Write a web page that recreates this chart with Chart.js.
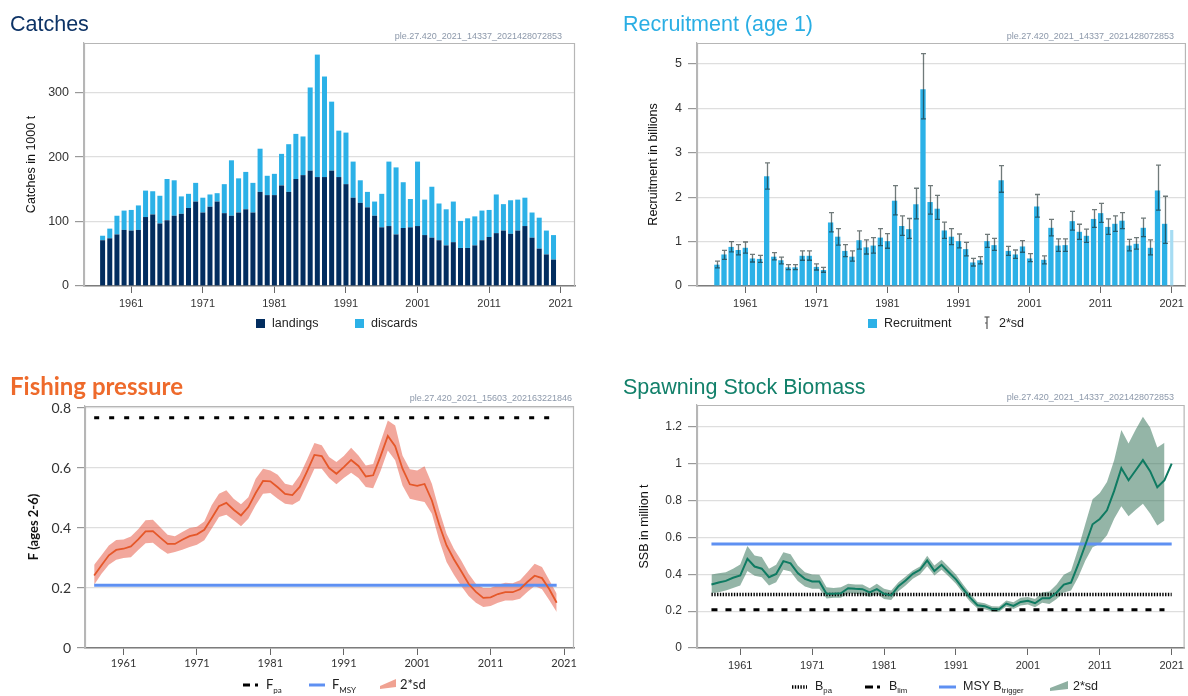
<!DOCTYPE html>
<html>
<head>
<meta charset="utf-8">
<script src="https://cdn.jsdelivr.net/npm/chart.js@4.4.1/dist/chart.umd.min.js"></script>
<style>
  html, body { margin: 0; padding: 0; background: #fff; }
  #wrap { position: relative; width: 1188px; height: 696px; overflow: hidden; font-family: "Liberation Sans", Arial, sans-serif; }
  canvas { position: absolute; }
  .title { position: absolute; font-size: 21.5px; line-height: 26px; white-space: nowrap; }
  .sid { position: absolute; width: 220px; font-size: 9px; line-height: 12px; color: #8c98aa; text-align: right; white-space: nowrap; }
  .leg { position: absolute; font-size: 12.5px; line-height: 16px; color: #222; white-space: nowrap; }
  .lato { font-family: Lato, "Liberation Sans", sans-serif; }
  .sw { position: absolute; width: 9px; height: 9px; }
  svg.ic { position: absolute; overflow: visible; }
  sub { font-size: 0.62em; vertical-align: -0.45em; line-height: 0; }
</style>
</head>
<body>
<div id="wrap">
  <canvas id="cCatch" width="594" height="348" style="left:0;top:0;width:594px;height:348px"></canvas>
  <canvas id="cRec" width="594" height="348" style="left:594px;top:0;width:594px;height:348px"></canvas>
  <canvas id="cF" width="594" height="348" style="left:0;top:348px;width:594px;height:348px"></canvas>
  <canvas id="cSSB" width="594" height="348" style="left:594px;top:348px;width:594px;height:348px"></canvas>

  <div class="title" style="left:10px;top:11px;color:#0d3366">Catches</div>
  <div class="title" style="left:623px;top:11px;color:#2aaee4">Recruitment (age 1)</div>
  <div class="title lato" style="left:10px;top:373px;color:#ee6a2b;font-weight:700;font-size:24px">Fishing pressure</div>
  <div class="title" style="left:623px;top:374px;color:#12806a">Spawning Stock Biomass</div>

  <div class="sid" style="left:342px;top:30px">ple.27.420_2021_14337_2021428072853</div>
  <div class="sid" style="left:954px;top:30px">ple.27.420_2021_14337_2021428072853</div>
  <div class="sid" style="left:352px;top:392px">ple.27.420_2021_15603_202163221846</div>
  <div class="sid" style="left:954px;top:391px">ple.27.420_2021_14337_2021428072853</div>

  <!-- catches legend -->
  <div class="sw" style="left:256px;top:319px;background:#022d5f"></div>
  <div class="leg" style="left:272px;top:315px">landings</div>
  <div class="sw" style="left:355px;top:319px;background:#2cb1e7"></div>
  <div class="leg" style="left:371px;top:315px">discards</div>

  <!-- recruitment legend -->
  <div class="sw" style="left:868px;top:319px;background:#2cb1e7"></div>
  <div class="leg" style="left:884px;top:315px">Recruitment</div>
  <svg class="ic" style="left:983px;top:316px" width="8" height="14">
    <line x1="4" y1="1" x2="4" y2="13" stroke="#555" stroke-width="1.2"/>
    <line x1="1.5" y1="1" x2="6.5" y2="1" stroke="#555" stroke-width="1.2"/>
    <line x1="2" y1="7" x2="4" y2="7" stroke="#555" stroke-width="1.2"/>
  </svg>
  <div class="leg" style="left:999px;top:315px">2*sd</div>

  <!-- F legend -->
  <svg class="ic" style="left:242px;top:680px" width="20" height="10">
    <line x1="1" y1="5" x2="8" y2="5" stroke="#000" stroke-width="3"/>
    <line x1="13" y1="5" x2="16" y2="5" stroke="#000" stroke-width="3"/>
  </svg>
  <div class="leg lato" style="left:266px;top:676px;font-size:13px">F<sub>pa</sub></div>
  <svg class="ic" style="left:309px;top:680px" width="16" height="10">
    <line x1="0" y1="5" x2="16" y2="5" stroke="#5e90f2" stroke-width="3"/>
  </svg>
  <div class="leg lato" style="left:332px;top:676px;font-size:13px">F<sub>MSY</sub></div>
  <svg class="ic" style="left:380px;top:678px" width="16" height="12">
    <polygon points="0,8 16,1 16,9 0,11" fill="#f0a292"/>
  </svg>
  <div class="leg lato" style="left:400px;top:676px;font-size:13px">2*sd</div>

  <!-- SSB legend -->
  <svg class="ic" style="left:792px;top:682px" width="15" height="10">
    <line x1="0" y1="5" x2="15" y2="5" stroke="#000" stroke-width="3.5" stroke-dasharray="1.4 1.4"/>
  </svg>
  <div class="leg" style="left:815px;top:678px">B<sub>pa</sub></div>
  <svg class="ic" style="left:865px;top:682px" width="17" height="10">
    <line x1="0" y1="5" x2="8" y2="5" stroke="#000" stroke-width="3"/>
    <line x1="12" y1="5" x2="15" y2="5" stroke="#000" stroke-width="3"/>
  </svg>
  <div class="leg" style="left:889px;top:678px">B<sub>lim</sub></div>
  <svg class="ic" style="left:939px;top:682px" width="17" height="10">
    <line x1="0" y1="5" x2="17" y2="5" stroke="#5e90f2" stroke-width="3"/>
  </svg>
  <div class="leg" style="left:963px;top:678px">MSY B<sub>trigger</sub></div>
  <svg class="ic" style="left:1050px;top:680px" width="18" height="12">
    <polygon points="0,8 18,1 18,9 0,11" fill="#8fb0a2"/>
  </svg>
  <div class="leg" style="left:1073px;top:678px">2*sd</div>
</div>

<script>
// --- data ---
const years = [1957,1958,1959,1960,1961,1962,1963,1964,1965,1966,
  1967,1968,1969,1970,1971,1972,1973,1974,1975,1976,
  1977,1978,1979,1980,1981,1982,1983,1984,1985,1986,
  1987,1988,1989,1990,1991,1992,1993,1994,1995,1996,
  1997,1998,1999,2000,2001,2002,2003,2004,2005,2006,
  2007,2008,2009,2010,2011,2012,2013,2014,2015,2016,
  2017,2018,2019,2020];
const xTickYears = [1961, 1971, 1981, 1991, 2001, 2011, 2021];

// catches in 1000 t
const landings = [71,74,80,87,86,87,107,111,97,102,
  109,112,121,131,114,123,131,113,109,114,
  119,114,146,141,141,156,146,166,172,179,
  169,169,179,169,158,137,129,122,109,91,
  93,80,90,91,93,79,75,71,63,68,
  59,59,63,71,76,82,86,81,86,93,
  75,58,49,41];
const discards = [7,15,29,30,32,38,41,36,43,64,
  55,27,22,29,23,19,13,45,86,53,
  58,46,67,30,33,49,74,70,60,129,
  190,156,107,72,80,56,35,24,22,52,
  100,104,71,44,100,55,79,57,56,63,
  42,46,45,46,42,60,41,52,48,44,
  39,48,37,38];
const catchTicks = [0, 100, 200, 300];

// recruitment in billions
const recruitment = [0.48,0.71,0.88,0.81,0.86,0.62,0.61,2.47,0.66,0.58,
  0.42,0.42,0.68,0.68,0.43,0.36,1.43,1.11,0.79,0.66,
  1.03,0.87,0.91,1.09,1.01,1.92,1.35,1.28,1.84,4.43,
  1.89,1.74,1.25,1.11,1.01,0.83,0.53,0.58,1.01,0.92,
  2.38,0.79,0.71,0.89,0.62,1.79,0.59,1.31,0.91,0.92,
  1.46,1.22,1.13,1.51,1.64,1.33,1.40,1.47,0.91,0.95,
  1.31,0.86,2.15,1.40];
const recHigh = [0.56,0.80,1.00,0.93,0.99,0.71,0.69,2.77,0.75,0.65,
  0.48,0.48,0.79,0.79,0.50,0.42,1.65,1.29,0.93,0.79,
  1.24,1.04,1.09,1.29,1.18,2.26,1.58,1.52,2.20,5.23,
  2.26,2.04,1.44,1.29,1.17,0.98,0.62,0.66,1.16,1.07,
  2.71,0.89,0.81,1.02,0.73,2.06,0.68,1.50,1.06,1.06,
  1.68,1.39,1.28,1.72,1.86,1.51,1.58,1.65,1.05,1.09,
  1.53,1.04,2.72,2.02];
const recLow = [0.41,0.60,0.77,0.70,0.74,0.54,0.53,2.18,0.59,0.50,
  0.37,0.37,0.58,0.58,0.36,0.31,1.22,0.92,0.66,0.56,
  0.83,0.72,0.74,0.91,0.85,1.60,1.14,1.07,1.51,3.76,
  1.62,1.50,1.07,0.93,0.86,0.68,0.45,0.50,0.87,0.80,
  2.11,0.69,0.62,0.76,0.55,1.55,0.50,1.13,0.78,0.78,
  1.26,1.05,0.98,1.32,1.43,1.16,1.23,1.29,0.79,0.83,
  1.11,0.70,1.71,0.96];
const recIntermediateYear = 2021;
const recIntermediate = 1.26;
const recTicks = [0, 1, 2, 3, 4, 5];

// fishing mortality F (ages 2-6)
const fValues = [0.242,0.276,0.309,0.327,0.331,0.339,0.362,0.389,0.390,0.368,
  0.347,0.347,0.361,0.373,0.379,0.394,0.433,0.473,0.484,0.461,
  0.442,0.470,0.517,0.557,0.556,0.536,0.514,0.510,0.537,0.589,
  0.644,0.640,0.600,0.581,0.603,0.627,0.607,0.572,0.576,0.639,
  0.707,0.673,0.598,0.546,0.541,0.547,0.492,0.411,0.342,0.296,
  0.256,0.214,0.187,0.167,0.169,0.180,0.186,0.186,0.196,0.220,
  0.241,0.233,0.196,0.151];
const fHigh = [0.278,0.309,0.342,0.360,0.362,0.372,0.396,0.426,0.428,0.403,
  0.378,0.373,0.387,0.400,0.404,0.422,0.476,0.514,0.526,0.498,
  0.479,0.503,0.564,0.598,0.592,0.578,0.548,0.542,0.576,0.629,
  0.684,0.676,0.637,0.620,0.640,0.668,0.642,0.609,0.614,0.687,
  0.759,0.742,0.642,0.596,0.592,0.606,0.548,0.459,0.381,0.331,
  0.292,0.248,0.214,0.200,0.200,0.211,0.218,0.216,0.226,0.253,
  0.281,0.270,0.226,0.181];
const fLow = [0.211,0.248,0.278,0.294,0.300,0.303,0.327,0.349,0.351,0.331,
  0.314,0.320,0.328,0.337,0.344,0.359,0.398,0.437,0.444,0.426,
  0.406,0.431,0.476,0.514,0.517,0.498,0.481,0.478,0.492,0.544,
  0.598,0.598,0.567,0.546,0.567,0.584,0.567,0.537,0.533,0.589,
  0.659,0.626,0.542,0.498,0.492,0.487,0.448,0.359,0.287,0.244,
  0.207,0.173,0.151,0.137,0.140,0.151,0.158,0.158,0.164,0.187,
  0.207,0.196,0.159,0.120];
const fPa = 0.768;
const fMsy = 0.209;
const fRefYears = [1957, 2020];
const fTicks = [0, 0.2, 0.4, 0.6, 0.8];

// spawning stock biomass, million t
const ssbYears = years.concat([2021]);
const ssb = [0.344,0.355,0.364,0.381,0.393,0.484,0.442,0.430,0.384,0.402,
  0.471,0.459,0.406,0.375,0.361,0.361,0.294,0.294,0.297,0.324,
  0.321,0.319,0.301,0.319,0.294,0.285,0.335,0.366,0.402,0.424,
  0.475,0.417,0.451,0.411,0.372,0.321,0.272,0.232,0.227,0.212,
  0.210,0.241,0.228,0.250,0.256,0.243,0.270,0.270,0.301,0.344,
  0.355,0.453,0.560,0.671,0.700,0.747,0.852,0.975,0.910,0.964,
  1.019,0.959,0.872,0.910,1.000];
const ssbHigh = [0.399,0.406,0.411,0.430,0.453,0.553,0.502,0.493,0.430,0.451,
  0.520,0.508,0.448,0.411,0.399,0.397,0.330,0.326,0.330,0.348,
  0.344,0.344,0.324,0.348,0.321,0.312,0.357,0.388,0.420,0.442,
  0.500,0.448,0.479,0.439,0.399,0.344,0.294,0.250,0.243,0.227,
  0.225,0.257,0.248,0.272,0.276,0.266,0.303,0.306,0.344,0.397,
  0.417,0.538,0.674,0.807,0.841,0.901,1.019,1.182,1.109,1.185,
  1.254,1.196,1.088,1.113];
const ssbLow = [0.297,0.303,0.312,0.326,0.339,0.417,0.392,0.384,0.339,0.357,
  0.424,0.415,0.363,0.334,0.321,0.321,0.268,0.272,0.272,0.297,
  0.294,0.290,0.276,0.294,0.266,0.261,0.308,0.339,0.375,0.399,
  0.444,0.393,0.424,0.388,0.348,0.297,0.250,0.214,0.210,0.198,
  0.196,0.225,0.212,0.230,0.236,0.221,0.245,0.239,0.266,0.301,
  0.312,0.384,0.475,0.547,0.566,0.611,0.701,0.769,0.714,0.750,
  0.783,0.729,0.665,0.692];
const bPa = 0.290;
const bLim = 0.207;
const msyBtrigger = 0.564;
const bRefYears = [1957, 2021];
const bLimYears = [1957, 2020];
const ssbTicks = [0, 0.2, 0.4, 0.6, 0.8, 1, 1.2];

// --- helpers ---
Chart.defaults.font.family = '"Liberation Sans", Arial, sans-serif';
Chart.defaults.color = '#333';

const pts = (xs, ys) => xs.map((x, i) => ({ x: x, y: ys[i] }));
const refLine = (xs, v) => xs.map(x => ({ x: x, y: v }));
const fixTicks = list => scale => { scale.ticks = list.map(v => ({ value: v })); };
const fmt = v => String(+v.toFixed(2));

// grey box round the plot (left/top/right; bottom is the x axis)
const framePlugin = {
  id: 'frame',
  beforeDatasetsDraw(chart) {
    const { ctx, chartArea: a } = chart;
    ctx.save();
    ctx.strokeStyle = '#b6b6b6';
    ctx.lineWidth = 1.2;
    ctx.beginPath();
    ctx.moveTo(a.left + 0.5, a.bottom);
    ctx.lineTo(a.left + 0.5, a.top + 0.5);
    ctx.lineTo(a.right - 0.5, a.top + 0.5);
    ctx.lineTo(a.right - 0.5, a.bottom);
    ctx.stroke();
    ctx.restore();
  }
};

// 2*sd whiskers for recruitment
const errorBarPlugin = {
  id: 'errorBars',
  afterDatasetsDraw(chart) {
    const { ctx, scales: { x, y } } = chart;
    ctx.save();
    ctx.strokeStyle = 'rgba(25,40,40,0.62)';
    ctx.lineWidth = 1.3;
    years.forEach((yr, i) => {
      const px = Math.round(x.getPixelForValue(yr)) + 0.5;
      const top = y.getPixelForValue(recHigh[i]);
      const bot = y.getPixelForValue(recLow[i]);
      ctx.beginPath();
      ctx.moveTo(px, top); ctx.lineTo(px, bot);
      ctx.moveTo(px - 2.5, top); ctx.lineTo(px + 2.5, top);
      ctx.moveTo(px - 2.5, bot); ctx.lineTo(px + 2.5, bot);
      ctx.stroke();
    });
    ctx.restore();
  }
};

function xAxis(min, max, family, pad) {
  return {
    type: 'linear', min: min, max: max, offset: false,
    afterFit: s => { s.height = 30; },
    afterBuildTicks: fixTicks(xTickYears),
    ticks: { autoSkip: false, maxRotation: 0, padding: pad, color: '#333',
      font: { family: family, size: 11 }, callback: v => String(v) },
    grid: { drawOnChartArea: false, drawTicks: true, tickLength: 7, tickColor: '#666', offset: false },
    border: { color: '#7c7c7c', width: 1.5 }
  };
}

function yAxis(max, ticks, width, title, titlePad, tickFont, titleFont, tickLen) {
  return {
    min: 0, max: max,
    afterFit: s => { s.width = width; },
    afterBuildTicks: fixTicks(ticks),
    ticks: { padding: 6, color: '#333', font: tickFont, callback: fmt },
    grid: { color: '#dedede', lineWidth: 1.2, drawTicks: true, tickLength: tickLen, tickColor: '#999' },
    border: { color: '#b6b6b6', width: 1.2 },
    title: { display: true, text: title, color: '#111', font: titleFont, padding: { top: titlePad, bottom: 0 } }
  };
}

const base = {
  responsive: false, animation: false, devicePixelRatio: 1,
  plugins: { legend: { display: false }, tooltip: { enabled: false } }
};

const arial = '"Liberation Sans", Arial, sans-serif';
const lato = 'Lato, "Liberation Sans", sans-serif';

// --- Catches ---
new Chart(document.getElementById('cCatch'), {
  type: 'bar',
  data: {
    labels: years,
    datasets: [
      { label: 'landings', data: landings, backgroundColor: '#022d5f', barPercentage: 0.7, categoryPercentage: 1 },
      { label: 'discards', data: discards, backgroundColor: '#2cb1e7', barPercentage: 0.7, categoryPercentage: 1 }
    ]
  },
  options: Object.assign({}, base, {
    layout: { padding: { left: 0, top: 43, right: 19, bottom: 32 } },
    scales: {
      x: Object.assign(xAxis(1954.4, 2023, arial, 4), { stacked: true }),
      y: Object.assign(yAxis(377, catchTicks, 84, 'Catches in 1000 t', 24.5,
        { family: arial, size: 12.5 }, { family: arial, size: 12.5 }, 9), { stacked: true })
    }
  }),
  plugins: [framePlugin]
});

// --- Recruitment ---
new Chart(document.getElementById('cRec'), {
  type: 'bar',
  data: {
    labels: years,
    datasets: [
      { label: 'Recruitment', data: recruitment, backgroundColor: '#2cb1e7',
        barPercentage: 0.75, categoryPercentage: 1, grouped: false },
      { label: 'Recruitment (intermediate year)', data: [{ x: recIntermediateYear, y: recIntermediate }],
        backgroundColor: '#a6dcf3', barPercentage: 0.45, categoryPercentage: 1, grouped: false }
    ]
  },
  options: Object.assign({}, base, {
    layout: { padding: { left: 0, top: 43, right: 1.5, bottom: 32 } },
    scales: {
      x: xAxis(1954.2, 2023, arial, 4),
      y: yAxis(5.47, recTicks, 103, 'Recruitment in billions', 52.5,
        { family: arial, size: 12.5 }, { family: arial, size: 12.5 }, 9)
    }
  }),
  plugins: [framePlugin, errorBarPlugin]
});

// --- Fishing pressure ---
new Chart(document.getElementById('cF'), {
  type: 'line',
  data: {
    datasets: [
      { label: 'F', data: pts(years, fValues), borderColor: '#e5582a', borderWidth: 1.8,
        pointRadius: 0, fill: false, tension: 0 },
      { label: 'Fpa', data: refLine(fRefYears, fPa), borderColor: '#000', borderWidth: 3,
        borderDash: [5, 10], pointRadius: 0, fill: false },
      { label: 'FMSY', data: refLine(fRefYears, fMsy), borderColor: '#5e90f2', borderWidth: 3,
        pointRadius: 0, fill: false },
      { label: '2*sd', data: pts(years, fHigh), borderWidth: 0, pointRadius: 0,
        backgroundColor: 'rgba(232,95,75,0.55)', fill: '+1', tension: 0 },
      { label: 'low', data: pts(years, fLow), borderWidth: 0, pointRadius: 0, fill: false, tension: 0 }
    ]
  },
  options: Object.assign({}, base, {
    layout: { padding: { left: 0, top: 58, right: 20, bottom: 18 } },
    scales: {
      x: xAxis(1955.75, 2022.36, lato, 2),
      y: yAxis(0.807, fTicks, 85, 'F (ages 2-6)', 26,
        { family: lato, size: 14 }, { family: lato, size: 13, weight: 'bold' }, 8)
    }
  }),
  plugins: [framePlugin]
});

// --- Spawning stock biomass ---
new Chart(document.getElementById('cSSB'), {
  type: 'line',
  data: {
    datasets: [
      { label: 'SSB', data: pts(ssbYears, ssb), borderColor: '#0f7b62', borderWidth: 2,
        pointRadius: 0, fill: false, tension: 0 },
      { label: 'Bpa', data: refLine(bRefYears, bPa), borderColor: '#000', borderWidth: 3.5,
        borderDash: [1.4, 1.4], pointRadius: 0, fill: false },
      { label: 'Blim', data: refLine(bLimYears, bLim), borderColor: '#000', borderWidth: 3,
        borderDash: [6, 8], pointRadius: 0, fill: false },
      { label: 'MSY Btrigger', data: refLine(bRefYears, msyBtrigger), borderColor: '#5e90f2', borderWidth: 3,
        pointRadius: 0, fill: false },
      { label: '2*sd', data: pts(years, ssbHigh), borderWidth: 0, pointRadius: 0,
        backgroundColor: 'rgba(60,120,95,0.55)', fill: '+1', tension: 0 },
      { label: 'low', data: pts(years, ssbLow), borderWidth: 0, pointRadius: 0, fill: false, tension: 0 }
    ]
  },
  options: Object.assign({}, base, {
    layout: { padding: { left: 0, top: 57, right: 3, bottom: 18 } },
    scales: {
      x: xAxis(1954.99, 2022.8, arial, 4),
      y: yAxis(1.318, ssbTicks, 103, 'SSB in million t', 43.5,
        { family: arial, size: 12 }, { family: arial, size: 12.5 }, 9)
    }
  }),
  plugins: [framePlugin]
});
</script>
</body>
</html>
